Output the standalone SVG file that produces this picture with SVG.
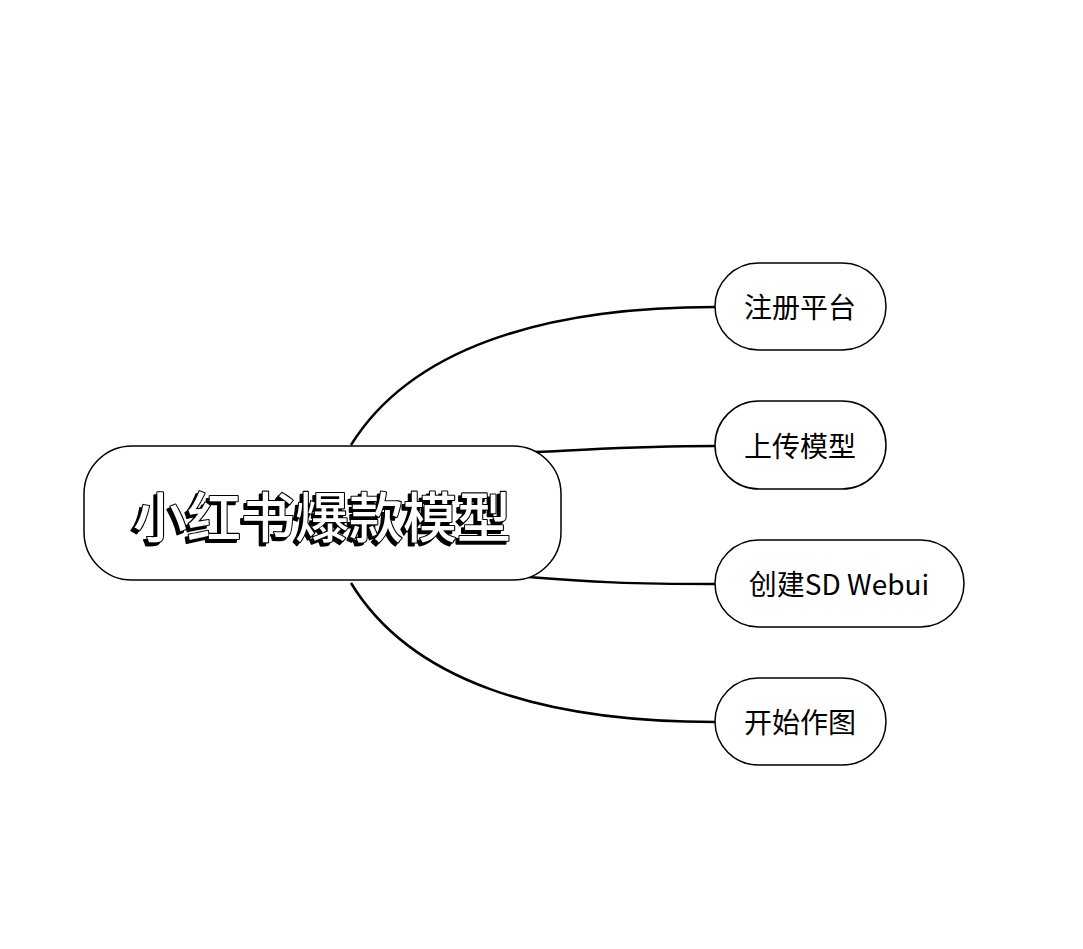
<svg xmlns="http://www.w3.org/2000/svg" width="1083" height="949" viewBox="0 0 1083 949">
<style>
.node{fill:#fff;stroke:#000;stroke-width:1.5}
.lbl{font-family:"Noto Sans CJK SC","Liberation Sans",sans-serif;font-size:28px;fill:#000;text-anchor:middle;dominant-baseline:central}
.title{font-family:"Noto Sans CJK SC","Liberation Sans",sans-serif;font-size:54px;font-weight:500;text-anchor:middle;dominant-baseline:central;fill:#fff;stroke:#000;stroke-width:2.2;paint-order:stroke;stroke-linejoin:round;filter:url(#shadow)}
.conn path{fill:none;stroke:#000;stroke-width:2.5}
</style>
<defs>
<filter id="shadow" x="-10%" y="-20%" width="120%" height="140%">
<feOffset in="SourceAlpha" dx="-3" dy="3" result="o"/>
<feMerge><feMergeNode in="o"/><feMergeNode in="SourceGraphic"/></feMerge>
</filter>
</defs>
<rect width="1083" height="949" fill="#fff"/>
<g id="connectors" class="conn">
<path d="M351,445 C410,350 540,307 715,307"/>
<path d="M533,452 C590,450 630,446 715,446"/>
<path d="M528,577 C590,582 630,584 715,584"/>
<path d="M351,583 C410,680 540,722 715,722"/>
</g>
<g id="root">
<rect class="node" x="84" y="446" width="477" height="134" rx="48"/>
<text class="title" x="322" y="514">小红书爆款模型</text>
</g>
<g id="n1">
<rect class="node" x="715" y="263" width="171" height="87" rx="43.5"/>
<text class="lbl" x="800" y="306">注册平台</text>
</g>
<g id="n2">
<rect class="node" x="715" y="401" width="171" height="88" rx="44"/>
<text class="lbl" x="800" y="445">上传模型</text>
</g>
<g id="n3">
<rect class="node" x="715" y="540" width="249" height="87" rx="43.5"/>
<text class="lbl" x="839" y="583">创建SD Webui</text>
</g>
<g id="n4">
<rect class="node" x="715" y="678" width="171" height="87" rx="43.5"/>
<text class="lbl" x="800" y="721">开始作图</text>
</g>
</svg>
